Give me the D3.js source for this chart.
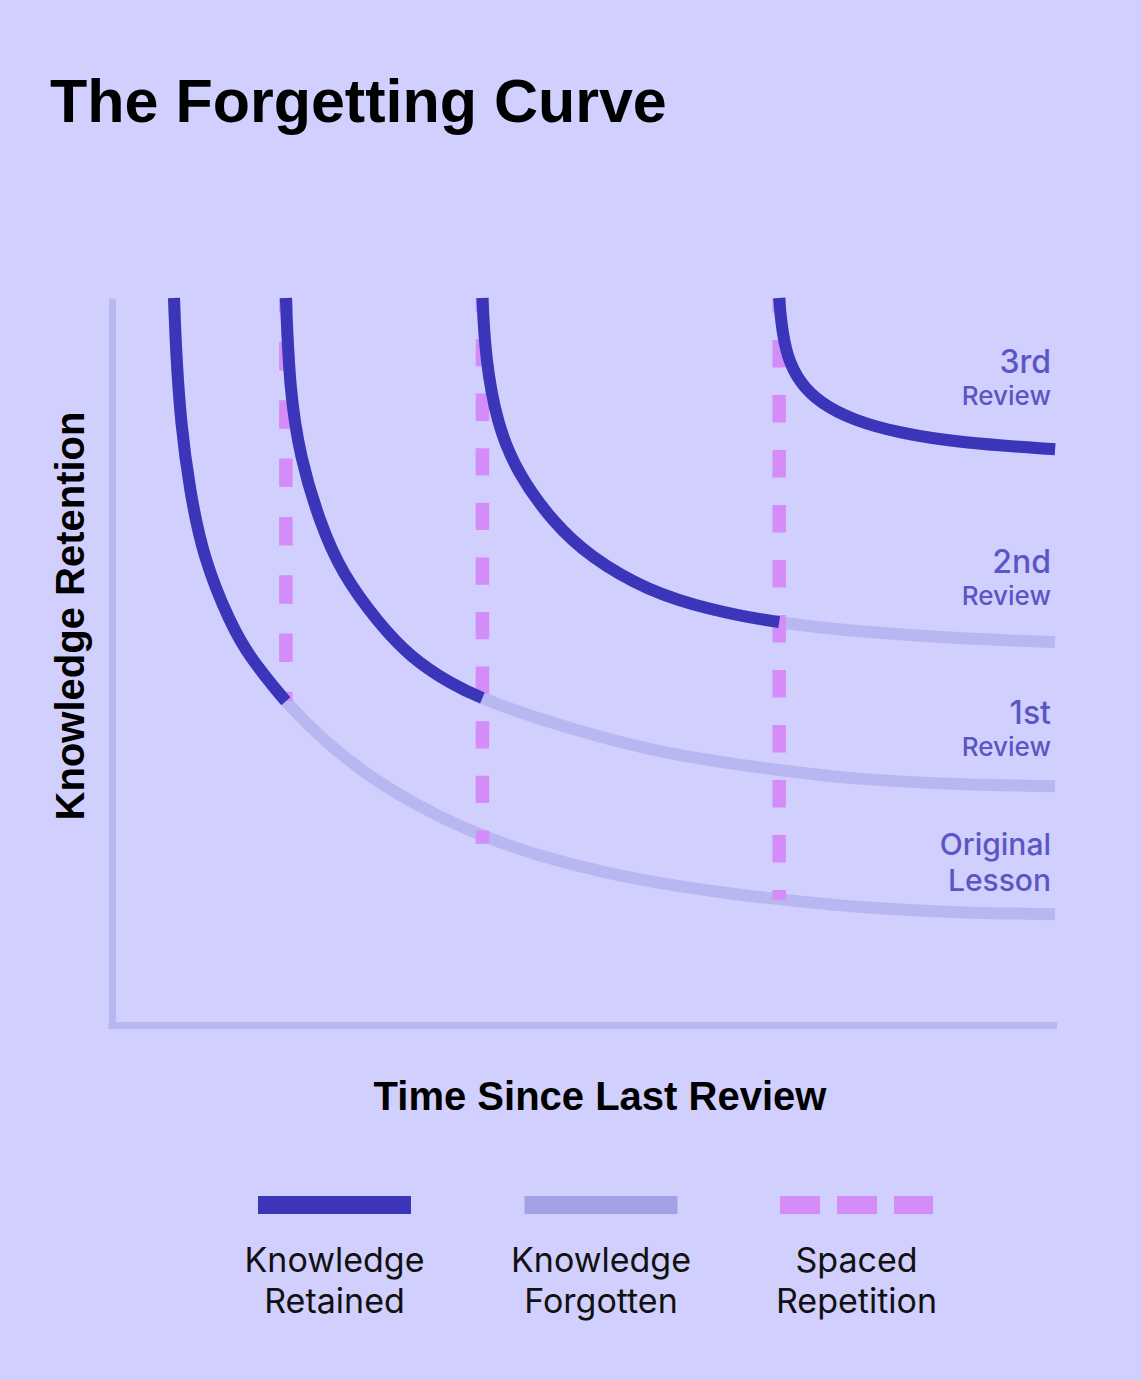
<!DOCTYPE html>
<html><head><meta charset="utf-8">
<script src="https://cdn.jsdelivr.net/npm/d3@7"></script>
<style>
html,body{margin:0;padding:0;background:#d1cffd;}
svg{display:block}
</style>
</head><body><div id="chart"></div>
<script>
// ---------- DATA ----------
const chartTitle = "The Forgetting Curve";
const xAxisTitle = "Time Since Last Review";
const yAxisTitle = "Knowledge Retention";

// review moments (time units, 0..100) and where each review marker ends (retention %)
const reviewTimes = [18.4, 39.2, 70.6];
const reviewMarkerEnds = [44.6, 25.0, 17.3];

// full curves: [time, retention %]
const originalCurve = [[6.56,100],[6.77,92.7],[7.27,82.8],[8.22,73.6],[9.63,64.4],[12.49,55.3],[14.6,50.6],[17.4,46.1],[18.41,44.5],
  [22.0,39.6],[27.3,34.1],[32.6,30.0],[38.9,26.1],[45.0,23.4],[52.0,21.0],[59.0,19.3],[66.1,18.0],[71.7,17.2],[79.2,16.2],[89.7,15.5],[99.8,15.3]];
const review1Curve = [[18.4,100],[18.8,87.3],[19.9,78.1],[22.0,69.1],[24.3,62.2],[28.2,55.3],[31.6,50.6],[35.8,47.0],[39.2,44.9],
  [45.0,42.2],[52.0,39.5],[59.0,37.3],[66.1,35.9],[71.7,34.9],[79.2,33.8],[89.7,33.1],[99.8,32.9]];
const review2Curve = [[39.2,100],[39.5,91.9],[40.7,82.8],[42.9,75.9],[46.7,69.1],[50.6,64.4],[56.6,59.8],[63.3,57.1],[70.6,55.3],
  [79.2,54.1],[89.7,53.2],[99.8,52.7]];
const review3Curve = [[70.6,100],[70.8,96.6],[71.4,91.9],[72.8,88.3],[74.9,85.6],[78.4,83.2],[83.4,81.4],[89.7,80.1],[99.8,79.2]];

const curves = [originalCurve, review1Curve, review2Curve, review3Curve];
// time up to which each curve counts as "retained" (next review), null = whole curve
const retainedUntil = [18.4, 39.2, 70.6, null];

// curve end labels: [first line, second line], first-line baseline anchored at a retention value
const curveLabels = [["Original","Lesson"],["1st","Review"],["2nd","Review"],["3rd","Review"]];
const curveLabelAnchors = [23.4, 41.4, 62.2, 89.7];

const legendLabels = [["Knowledge","Retained"],["Knowledge","Forgotten"],["Spaced","Repetition"]];

// ---------- STYLE ----------
const W = 1142, H = 1380;
const C = {
  bg: "#d1cffd", retained: "#3a35b9", forgotten: "#b9b7f1", axis: "#b9b7ef",
  dash: "#d48cf9", label: "#5a56c6", legendForgot: "#a5a1e7", text: "#000"
};
const dashStyles = [
  {array: "28.5 29.8", offset: 14.3},
  {array: "27.3 27.3", offset: 13.6},
  {array: "27.5 27.5", offset: 13}
];

const svg = d3.select("#chart").append("svg").attr("width", W).attr("height", H);
svg.append("rect").attr("width", W).attr("height", H).attr("fill", C.bg);

const x = d3.scaleLinear().domain([0,100]).range([112,1057]);
const y = d3.scaleLinear().domain([0,100]).range([1025.5,298]);

// title
svg.append("text").attr("x", 50).attr("y", 122)
  .attr("font-family", "'Liberation Sans', Arial, sans-serif").attr("font-weight", 700)
  .attr("font-size", 61).attr("fill", C.text).text(chartTitle);

// axes
const gx = svg.append("g").attr("transform", `translate(0,${y(0)})`)
  .call(d3.axisBottom(x).ticks(0).tickSizeOuter(0));
const gy = svg.append("g").attr("transform", `translate(${x(0)},0)`)
  .call(d3.axisLeft(y).ticks(0).tickSizeOuter(0));
[gx, gy].forEach(g => g.select(".domain").attr("stroke", C.axis).attr("stroke-width", 7));
gx.select(".domain").attr("d", `M${x(0)-3.5},0H${x(100)}`);

// axis titles
svg.append("text").attr("x", 600).attr("y", 1110).attr("text-anchor", "middle")
  .attr("font-family", "'Liberation Sans', Arial, sans-serif").attr("font-weight", 700)
  .attr("font-size", 40).attr("fill", C.text).text(xAxisTitle);
svg.append("text").attr("transform", `translate(84,616) rotate(-90)`)
  .attr("text-anchor", "middle")
  .attr("font-family", "'Liberation Sans', Arial, sans-serif").attr("font-weight", 700)
  .attr("font-size", 40).attr("fill", C.text).text(yAxisTitle);

const line = d3.line().x(d => x(d[0])).y(d => y(d[1])).curve(d3.curveBasis);

const gF = svg.append("g");
const gD = svg.append("g");
const gR = svg.append("g");

// whole curves in "forgotten" colour
gF.selectAll("path").data(curves).join("path")
  .attr("d", line).attr("fill", "none").attr("stroke", C.forgotten)
  .attr("stroke-width", 12).attr("stroke-linecap", "butt");

// spaced repetition markers
gD.selectAll("line").data(reviewTimes).join("line")
  .attr("x1", d => x(d)).attr("x2", d => x(d))
  .attr("y1", y(100)).attr("y2", (d,i) => y(reviewMarkerEnds[i]))
  .attr("stroke", C.dash).attr("stroke-width", 13.5)
  .attr("stroke-dasharray", (d,i) => dashStyles[i].array)
  .attr("stroke-dashoffset", (d,i) => dashStyles[i].offset);

// retained part: same path, shown up to the next review
gR.selectAll("path").data(curves).join("path")
  .attr("d", line).attr("fill", "none").attr("stroke", C.retained)
  .attr("stroke-width", 12).attr("stroke-linecap", "butt")
  .each(function(d, i) {
    const t = retainedUntil[i];
    if (t == null) return;
    const node = this, total = node.getTotalLength(), xt = x(t);
    let lo = 0, hi = total;
    for (let k = 0; k < 40; k++) {
      const mid = (lo + hi) / 2;
      if (node.getPointAtLength(mid).x < xt) lo = mid; else hi = mid;
    }
    d3.select(node).attr("stroke-dasharray", `${lo} ${total + 10}`);
  });

// curve labels
const lab = svg.append("g").attr("font-family", "Inter, 'Noto Sans', sans-serif")
  .attr("fill", C.label).attr("text-anchor", "end");
curveLabels.forEach((l, i) => {
  const by = y(curveLabelAnchors[i]);
  const first = i === 0;
  lab.append("text").attr("x", 1051).attr("y", by).attr("font-size", first ? 30 : 32)
    .attr("font-weight", 500).text(l[0]);
  lab.append("text").attr("x", 1051).attr("y", by + (first ? 36 : 32)).attr("font-size", first ? 30 : 26)
    .attr("font-weight", 500).text(l[1]);
});

// legend
const legendCenters = [334.5, 601, 856.5];
const lg = svg.append("g");
const swW = 153;
lg.append("line").attr("x1", legendCenters[0]-swW/2).attr("x2", legendCenters[0]+swW/2)
  .attr("y1", 1205).attr("y2", 1205).attr("stroke", C.retained).attr("stroke-width", 18);
lg.append("line").attr("x1", legendCenters[1]-swW/2).attr("x2", legendCenters[1]+swW/2)
  .attr("y1", 1205).attr("y2", 1205).attr("stroke", C.legendForgot).attr("stroke-width", 18);
lg.append("line").attr("x1", legendCenters[2]-swW/2).attr("x2", legendCenters[2]+swW/2)
  .attr("y1", 1205).attr("y2", 1205).attr("stroke", C.dash).attr("stroke-width", 18)
  .attr("stroke-dasharray", "40 17");
legendLabels.forEach((l, i) => {
  const t = lg.append("text").attr("text-anchor", "middle")
    .attr("font-family", "Inter, 'Noto Sans', sans-serif").attr("font-size", 34)
    .attr("fill", "#111");
  t.append("tspan").attr("x", legendCenters[i]).attr("y", 1272).text(l[0]);
  t.append("tspan").attr("x", legendCenters[i]).attr("y", 1313).text(l[1]);
});
</script>
</body></html>
